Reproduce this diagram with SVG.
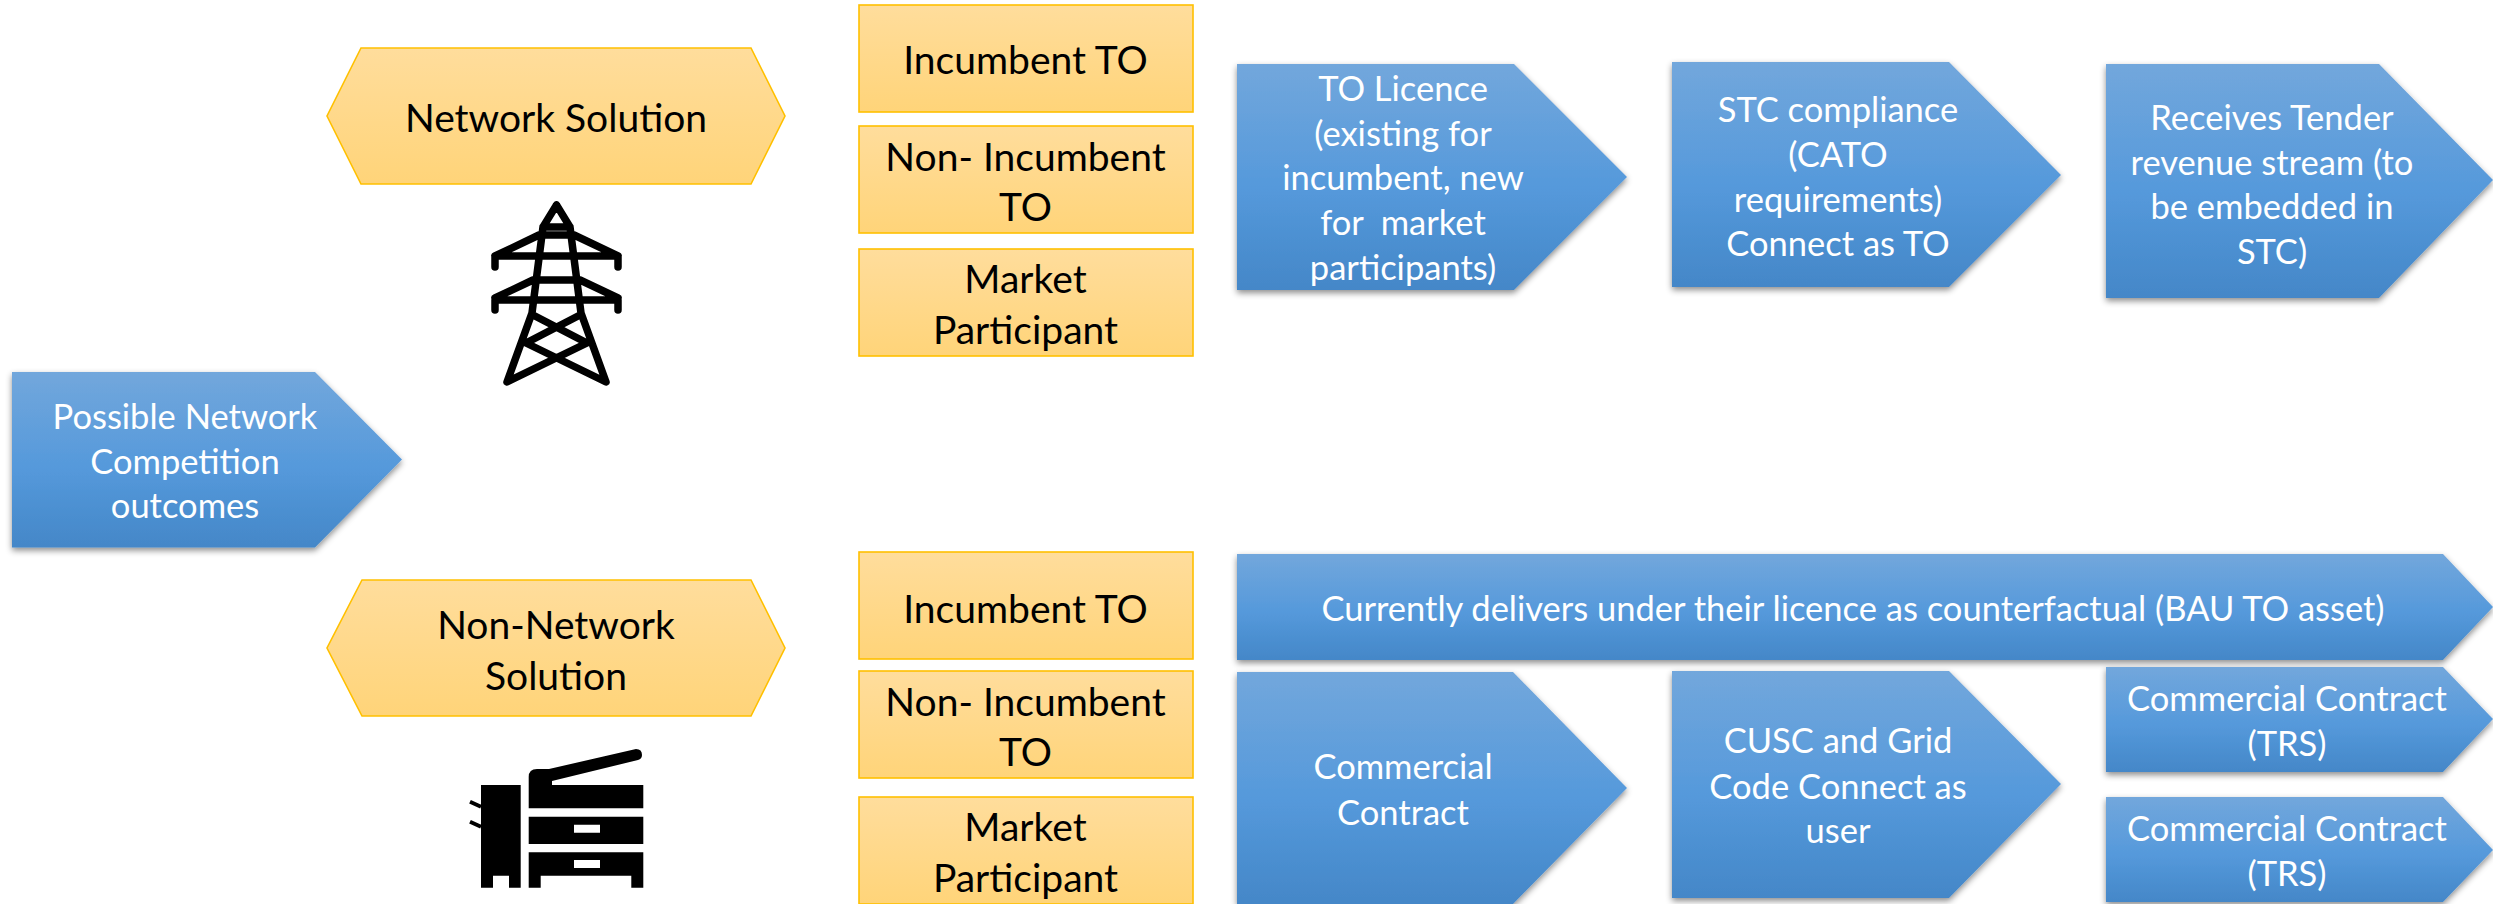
<svg xmlns="http://www.w3.org/2000/svg" width="2493" height="904" viewBox="0 0 2493 904">
<style>
text{font-family:Lato,"Liberation Sans",sans-serif;text-anchor:middle}
.w{fill:#fff;font-size:34.500px}
.k{fill:#000;font-size:39px}
.b{fill:url(#blue);filter:url(#sh)}
.y{fill:url(#yel);stroke:#FFC000;stroke-width:1.6}
.ic{fill:none;stroke:#000;stroke-width:7.5;stroke-linecap:round;stroke-linejoin:round}
</style>
<defs>
<linearGradient id="blue" x1="0" y1="0" x2="0" y2="1"><stop offset="0" stop-color="#72A7DC"/><stop offset=".55" stop-color="#5599DB"/><stop offset="1" stop-color="#4487C8"/></linearGradient>
<linearGradient id="yel" x1="0" y1="0" x2="0" y2="1"><stop offset="0" stop-color="#FFDD9C"/><stop offset="1" stop-color="#FFD479"/></linearGradient>
<filter id="sh" x="-5%" y="-5%" width="112%" height="115%"><feDropShadow dx="0" dy="3" stdDeviation="3" flood-color="#000" flood-opacity=".45"/></filter>
</defs>
<g id="connectors"></g>
<g id="outcomes"><path class="b" d="M12 372H315L402 459.500L315 547.500H12Z"/><text class="w" x="185" y="429">Possible Network</text><text class="w" x="185" y="474">Competition</text><text class="w" x="185" y="518">outcomes</text></g>
<g id="network-solution"><path class="y" d="M361 48H751L785 116L751 184H361L327 116Z"/><text class="k" x="556" y="132">Network Solution</text></g>
<g id="pylon"><path class="ic" d="M556.500 205L543 227L532 313L507 382L587 343L533 315M556.500 205L570 227L581 313L606 382L526 343L580 315M543 227H570M539 235H574M495 267V256H618V267M495 256L539 235M618 256L574 235M533 280H580M495 298L533 280M618 298L580 280M495 310V300H618V310"/></g>
<g id="nonnetwork-solution"><path class="y" d="M362 580H751L785 648L751 716H362L327 648Z"/><text class="k" x="556" y="639">Non-Network</text><text class="k" x="556" y="690">Solution</text></g>
<g id="printer"><path d="M481 785H520.700V887.700H509V875.700H493V887.700H481Z"/><path d="M470 801.700L481 806.700M470 821.700L481 826.700" stroke="#000" stroke-width="4" fill="none"/><path d="M528.700 785V777Q528.700 769 537 769H549L636 749Q642 749 642 755Q642 759 638 760L552 781V785H643.300V808.300H528.700Z"/><path fill-rule="evenodd" d="M528.700 816.700H643.300V844H528.700ZM574 824.700V832.700H600V824.700Z"/><path fill-rule="evenodd" d="M528.700 852.300H643.300V887.700H631.300V875.700H540.700V887.700H528.700ZM574 860V868H600V860Z"/></g>
<g id="y1"><rect class="y" x="859" y="5" width="334" height="107"/><text class="k" x="1025.500" y="74">Incumbent TO</text></g>
<g id="y2"><rect class="y" x="859" y="126" width="334" height="107"/><text class="k" x="1025.500" y="171">Non- Incumbent</text><text class="k" x="1025.500" y="221">TO</text></g>
<g id="y3"><rect class="y" x="859" y="249" width="334" height="107"/><text class="k" x="1025.500" y="293">Market</text><text class="k" x="1025.500" y="344">Participant</text></g>
<g id="y4"><rect class="y" x="859" y="552" width="334" height="107"/><text class="k" x="1025.500" y="623">Incumbent TO</text></g>
<g id="y5"><rect class="y" x="859" y="671" width="334" height="107"/><text class="k" x="1025.500" y="716">Non- Incumbent</text><text class="k" x="1025.500" y="766">TO</text></g>
<g id="y6"><rect class="y" x="859" y="797" width="334" height="107"/><text class="k" x="1025.500" y="841">Market</text><text class="k" x="1025.500" y="892">Participant</text></g>
<g id="to-licence"><path class="b" d="M1237 64H1514L1627 177L1514 290H1237Z"/><text class="w" x="1403" y="101">TO Licence</text><text class="w" x="1403" y="146">(existing for</text><text class="w" x="1403" y="190">incumbent, new</text><text class="w" x="1403" y="235" xml:space="preserve">for  market</text><text class="w" x="1403" y="280">participants)</text></g>
<g id="stc"><path class="b" d="M1672 62H1949L2061 175L1949 287H1672Z"/><text class="w" x="1838" y="122">STC compliance</text><text class="w" x="1838" y="167">(CATO</text><text class="w" x="1838" y="212">requirements)</text><text class="w" x="1838" y="256">Connect as TO</text></g>
<g id="tender"><path class="b" d="M2106 64H2379L2493 180L2379 298H2106Z"/><text class="w" x="2272" y="130">Receives Tender</text><text class="w" x="2272" y="175">revenue stream (to</text><text class="w" x="2272" y="219">be embedded in</text><text class="w" x="2272" y="264">STC)</text></g>
<g id="bau"><path class="b" d="M1237 554H2443L2493 607L2443 660H1237Z"/><text class="w" x="1853" y="621">Currently delivers under their licence as counterfactual (BAU TO asset)</text></g>
<g id="commercial"><path class="b" d="M1237 672H1513L1627 788L1513 904H1237Z"/><text class="w" x="1403" y="779">Commercial</text><text class="w" x="1403" y="825">Contract</text></g>
<g id="cusc"><path class="b" d="M1672 671H1949L2061 784L1949 898H1672Z"/><text class="w" x="1838" y="753">CUSC and Grid</text><text class="w" x="1838" y="799">Code Connect as</text><text class="w" x="1838" y="843">user</text></g>
<g id="trs1"><path class="b" d="M2106 667H2443L2493 719L2443 772H2106Z"/><text class="w" x="2287" y="711">Commercial Contract</text><text class="w" x="2287" y="756">(TRS)</text></g>
<g id="trs2"><path class="b" d="M2106 797H2443L2493 850L2443 902H2106Z"/><text class="w" x="2287" y="841">Commercial Contract</text><text class="w" x="2287" y="886">(TRS)</text></g>
</svg>
